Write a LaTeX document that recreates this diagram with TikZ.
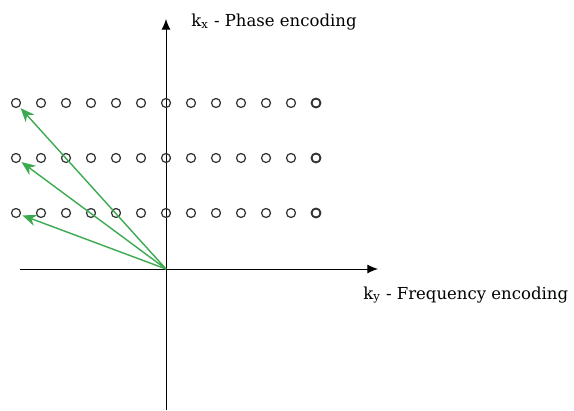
\documentclass[tikz,border=0pt]{standalone}
\usepackage{fontspec}
\setmainfont{DejaVu Serif}
\usepackage{xcolor}
\usetikzlibrary{arrows,arrows.meta,positioning}
\definecolor{arrowgreen}{RGB}{60,170,80}
\tikzset{%
	sample/.style   = {draw=black!80, circle, inner sep=0pt, minimum size=0.18cm, line width=0.7pt}, % k-space point
	axis/.style     = {line width=0.5pt, -{Latex[length=6pt,width=5pt]}},
	label/.style    = {font=\fontsize{9.4}{11}\selectfont, anchor=west, inner sep=0pt},
	vec/.style      = {draw=arrowgreen, line width=0.8pt, -{Stealth[length=8pt,width=6.5pt]}, shorten >=1pt},
	waypoint/.style = {coordinate},
}

\begin{document}
\begin{tikzpicture}[x=0.02cm,y=-0.02cm]
	\useasboundingbox (0,0) rectangle (574,411);
	\node [waypoint] (o) at (166,269) {};
	\node [waypoint] (xl) at (20,269) {};
	\node [waypoint] (xr) at (378,269) {};
	\node [waypoint] (yb) at (166,410) {};
	\node [waypoint] (yt) at (166,19) {};

	% axes
	\draw[axis] (xl) -- (xr);
	\draw[axis] (yb) -- (yt);
	\node [label] (kx) at (191,22) {k\textsubscript{x} - Phase encoding};
	\node [label] (ky) at (363,295) {k\textsubscript{y} - Frequency encoding};

	% sample grid
	\foreach \r/\yy in {1/103,2/158,3/213}
		\foreach \c in {0,...,12}
			\node [sample] (p\r\c) at (16+25*\c,\yy) {};
	\foreach \r in {1,2,3}
		\node [sample, line width=1pt] at (p\r12) {};

	% vectors
	\draw[vec] (o) -- (p10);
	\draw[vec] (o) -- (p20);
	\draw[vec] (o) -- (p30);
\end{tikzpicture}
\end{document}
